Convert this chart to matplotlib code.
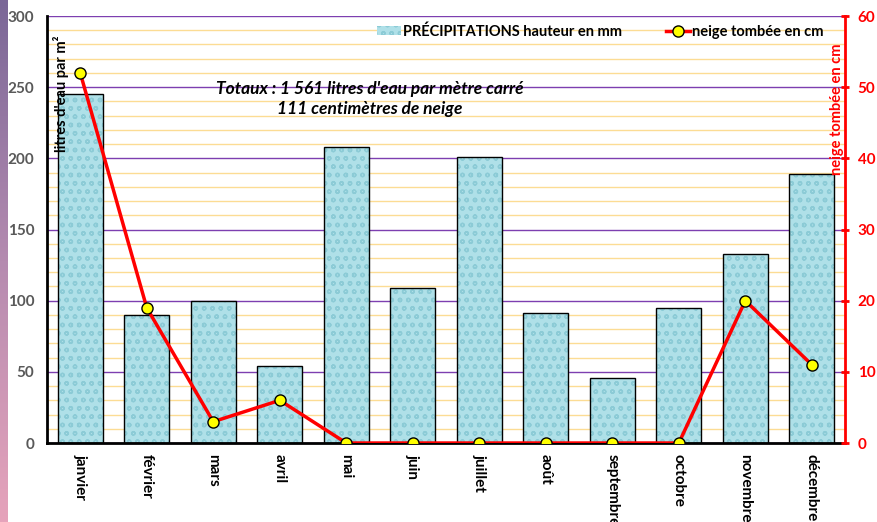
import numpy as np
import matplotlib.pyplot as plt
from matplotlib.lines import Line2D
from matplotlib.patches import Patch
from matplotlib.colors import LinearSegmentedColormap

plt.rcParams['font.family'] = ['Lato', 'DejaVu Sans']

mois = ['janvier', 'février', 'mars', 'avril', 'mai', 'juin', 'juillet',
        'août', 'septembre', 'octobre', 'novembre', 'décembre']
pluie = [245, 90, 100, 54, 208, 109, 201, 91, 46, 95, 133, 189]
neige = [52, 19, 3, 6, 0, 0, 0, 0, 0, 0, 20, 11]

fig = plt.figure(figsize=(8.77, 5.22), dpi=100)

# bande degradee a gauche
band = fig.add_axes([0, 0, 0.008, 1])
grad = np.linspace(0, 1, 256).reshape(-1, 1)
cm = LinearSegmentedColormap.from_list('b', ['#7a6797', '#b58bb0', '#e6a3bb'])
band.imshow(grad, aspect='auto', cmap=cm)
band.axis('off')

ax = fig.add_axes([0.0536, 0.1513, 0.91, 0.818])
x = np.arange(len(mois))

# grille
for v in range(0, 301, 10):
    if v % 50 == 0:
        ax.axhline(v, color='#7d3fb0', lw=1.0, zorder=0)
    else:
        ax.axhline(v, color='#fcdc94', lw=1.0, zorder=0)

ax.bar(x, pluie, width=0.68, color='#afe0e8', edgecolor='#8ccbd6', hatch='oo',
       lw=0, zorder=2)
ax.bar(x, pluie, width=0.68, fill=False, edgecolor='black', lw=1.0, zorder=3)

ax.set_xlim(-0.5, 11.5)
ax.set_ylim(0, 300)
ax.set_yticks(range(0, 301, 50))
ax.set_xticks(x)
ax.set_xticklabels(mois, rotation=270, fontweight='bold', fontsize=11)
ax.tick_params(axis='x', length=0, pad=8)
ax.tick_params(axis='y', length=0, pad=9, labelcolor='#595959', labelsize=11)
for t in ax.get_yticklabels():
    t.set_fontweight('bold')
for s in ['top', 'right']:
    ax.spines[s].set_visible(False)
ax.spines['left'].set_linewidth(2)
ax.spines['bottom'].set_linewidth(2)

ax2 = ax.twinx()
ax2.plot(x, neige, color='#ff0000', lw=2.5, marker='o', markersize=8,
         markerfacecolor='#ffff00', markeredgecolor='black', zorder=5)
ax2.set_ylim(0, 60)
ax2.set_yticks(range(0, 61, 10))
ax2.tick_params(axis='y', colors='#ff0000', direction='inout', length=6, width=2,
                labelsize=11, pad=6)
for t in ax2.get_yticklabels():
    t.set_fontweight('bold')
for s in ['top', 'left', 'bottom']:
    ax2.spines[s].set_visible(False)
ax2.spines['right'].set_color('#ff0000')
ax2.spines['right'].set_linewidth(2)

ax.text(0.017, 0.955, "litres d'eau par m²", transform=ax.transAxes, rotation=90,
        ha='center', va='top', fontsize=10.5, fontweight='bold', zorder=6)
ax2.text(0.99, 0.935, 'neige tombée en cm', transform=ax.transAxes, rotation=90,
         ha='center', va='top', fontsize=10.5, fontweight='bold', color='#ff0000')
ax.text(0.405, 0.806, "Totaux : 1 561 litres d'eau par mètre carré\n111 centimètres de neige",
        transform=ax.transAxes, ha='center', va='center', fontsize=12.5,
        fontweight='bold', style='italic', linespacing=1.3, zorder=6)

handles = [Patch(facecolor='#afe0e8', edgecolor='#8ccbd6', hatch='oo', lw=0),
           Line2D([], [], color='#ff0000', lw=2.5, marker='o', markersize=8,
                  markerfacecolor='#ffff00', markeredgecolor='black')]
leg = ax2.legend(handles, ['PRÉCIPITATIONS hauteur en mm', 'neige tombée en cm'],
                 loc='upper right', bbox_to_anchor=(0.99, 1.012), ncol=2,
                 frameon=False, handlelength=1.6, handleheight=0.6,
                 handletextpad=0.2, columnspacing=3.0,
                 prop={'weight': 'bold', 'size': 10.5})

fig.savefig('out.png', dpi=100)
